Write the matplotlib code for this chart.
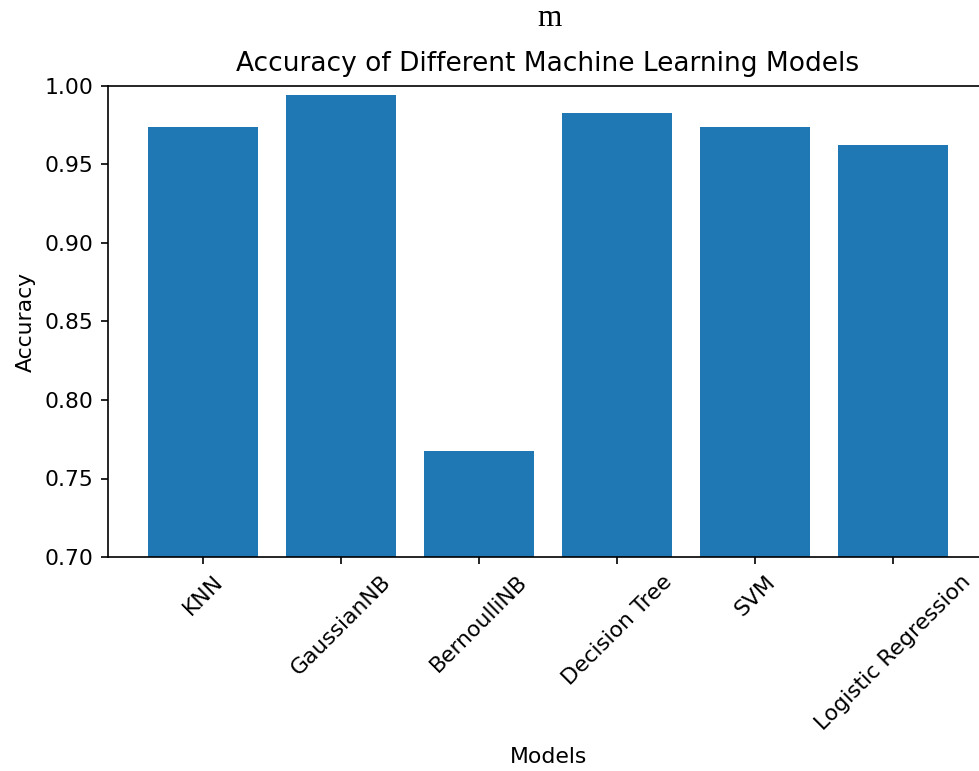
import matplotlib.pyplot as plt

# model names and their accuracy scores
models = ['KNN', 'GaussianNB', 'BernoulliNB', 'Decision Tree', 'SVM', 'Logistic Regression']
accuracy = [0.9737, 0.9942, 0.7675, 0.9825, 0.9737, 0.9626]

fig = plt.figure(figsize=(979 / 150, 771 / 150), dpi=150)

# axes run off the right edge of the picture, like the reference
ax = fig.add_axes([108 / 979, 1 - 557 / 771, 880 / 979, 471 / 771])
ax.bar(models, accuracy, color='#1f77b4')
ax.set_ylim(0.7, 1.0)
ax.set_title('Accuracy of Different Machine Learning Models', fontsize=12.7, pad=7)
ax.set_xlabel('Models', fontsize=10.5, labelpad=6)
ax.set_ylabel('Accuracy', fontsize=10.5)
ax.tick_params(labelsize=10.5)
plt.setp(ax.get_xticklabels(), rotation=45)

# stray letter at the top of the original image
fig.text(549 / 979, 1 - 18 / 771, 'm', family='Liberation Serif', fontsize=15,
         ha='center', va='center')

fig.savefig('out.png', dpi=150)
